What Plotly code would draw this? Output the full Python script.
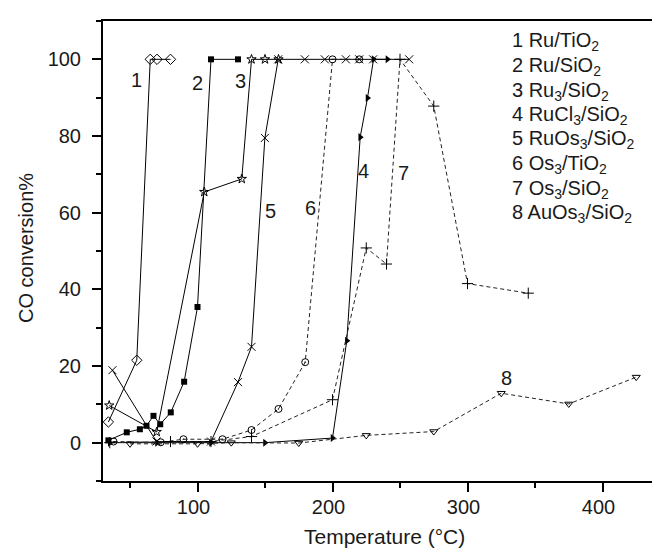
import plotly.graph_objects as go

# ---------------- data ----------------
s1_x = [34, 55, 65, 70, 80]
s1_y = [5.4, 21.5, 100, 100, 100]

s2_x = [34, 47.6, 57.3, 62.2, 67.4, 72.4, 80.2, 90.1, 100, 110, 130]
s2_y = [0.6, 2.7, 3.5, 4.4, 7.0, 4.8, 7.9, 15.9, 35.4, 100, 100]

s3_x = [34.6, 69.8, 105, 132.8, 140, 150, 160]
s3_y = [9.7, 2.8, 65.4, 68.8, 100, 100, 100]

s4_x = [35, 70, 110, 150, 200, 210.6, 220.5, 225.9, 230.4, 240.7]
s4_y = [0, 0, 0, 0, 1.2, 26.6, 79.7, 89.9, 100, 100]

s5_x = [37, 69.6, 110, 130, 140, 149.9, 159.8, 179.5, 194.3, 209.9, 219.8, 230.1, 256.8]
s5_y = [18.9, 0.3, 0.3, 15.8, 25.0, 79.5, 100, 100, 100, 100, 100, 100, 100]

s6_x = [37.8, 72.8, 89.6, 118.5, 140, 160, 179.8, 200, 219.8]
s6_y = [0.3, 0.1, 0.9, 0.9, 3.3, 8.8, 21.0, 100, 100]

s7_x = [35, 80, 110, 140, 200, 225, 240, 250, 275, 300, 345]
s7_y = [0, 0.3, 0.3, 1.6, 11.2, 50.8, 46.6, 100, 87.8, 41.5, 39.0]

s8_x = [50, 100, 125, 175, 225, 275, 325, 375, 425]
s8_y = [-0.3, -0.3, 0, -0.1, 1.9, 2.9, 12.9, 10.1, 17.1]

curve_labels = ["1", "2", "3", "4", "5", "6", "7", "8"]
curve_label_x = [55, 100, 132, 223, 154.3, 184, 252.6, 328.9]
curve_label_y = [94.7, 93.9, 94.4, 70.8, 60.5, 61.3, 70.4, 16.8]

legend_texts = [
    "1 Ru/TiO<sub>2</sub>",
    "2 Ru/SiO<sub>2</sub>",
    "3 Ru<sub>3</sub>/SiO<sub>2</sub>",
    "4 RuCl<sub>3</sub>/SiO<sub>2</sub>",
    "5 RuOs<sub>3</sub>/SiO<sub>2</sub>",
    "6 Os<sub>3</sub>/TiO<sub>2</sub>",
    "7 Os<sub>3</sub>/SiO<sub>2</sub>",
    "8 AuOs<sub>3</sub>/SiO<sub>2</sub>",
]

x_tick_vals = [100, 200, 300, 400]
y_tick_vals = [0, 20, 40, 60, 80, 100]

# ---------------- layout geometry ----------------
W, H = 660, 549
ML, MR, MT, MB = 95, 0, 13, 76
FONT = "Liberation Sans, Arial, sans-serif"
FS = 20
FS_LEG = 20
TXT = "#1a1a1a"


def px_to_paper_x(px):
    return (px - ML) / (W - ML - MR)


def px_to_paper_y(py):
    return (H - MB - py) / (H - MT - MB)


fig = go.Figure()

styles = [
    (s1_x, s1_y, dict(symbol="diamond-open", size=8, color="black", line=dict(width=1, color="black")), None),
    (s2_x, s2_y, dict(symbol="square", size=6, color="black"), None),
    (s3_x, s3_y, dict(symbol="star-open", size=7, color="black", line=dict(width=1, color="black")), None),
    (s4_x, s4_y, dict(symbol="triangle-right", size=7, color="black"), None),
    (s5_x, s5_y, dict(symbol="x-thin-open", size=8, color="black", line=dict(width=1, color="black")), None),
    (s6_x, s6_y, dict(symbol="circle-open-dot", size=7, color="black", line=dict(width=1, color="black")), "4px,3px"),
    (s7_x, s7_y, dict(symbol="cross-thin-open", size=8, color="black", line=dict(width=1, color="black")), "4px,3px"),
    (s8_x, s8_y, dict(symbol="triangle-down-open", size=7, color="black", line=dict(width=1, color="black")), "4px,3px"),
]

for xs, ys, mk, dash in styles:
    line = dict(color="#222" if dash else "black", width=1)
    if dash:
        line["dash"] = dash
    fig.add_trace(go.Scatter(x=xs, y=ys, mode="lines+markers", marker=mk, line=line,
                             showlegend=False, hoverinfo="skip"))

annotations = []
for t, x, y in zip(curve_labels, curve_label_x, curve_label_y):
    annotations.append(dict(x=x, y=y, xref="x", yref="y", text=t, showarrow=False,
                            font=dict(family=FONT, size=FS, color=TXT),
                            xanchor="center", yanchor="middle"))

for i, t in enumerate(legend_texts):
    annotations.append(dict(x=px_to_paper_x(502), y=px_to_paper_y(34 + 24.5 * i),
                            xref="paper", yref="paper", text=t, showarrow=False,
                            font=dict(family=FONT, size=FS_LEG, color=TXT),
                            xanchor="left", yanchor="middle"))

annotations.append(dict(x=px_to_paper_x(376), y=px_to_paper_y(528), xref="paper", yref="paper",
                        text="Temperature (°C)", showarrow=False,
                        font=dict(family=FONT, size=21, color=TXT),
                        xanchor="center", yanchor="middle"))
annotations.append(dict(x=px_to_paper_x(18), y=px_to_paper_y(240), xref="paper", yref="paper",
                        text="CO conversion%", showarrow=False, textangle=-90,
                        font=dict(family=FONT, size=FS, color=TXT),
                        xanchor="center", yanchor="middle"))

fig.update_layout(
    width=W, height=H,
    margin=dict(l=ML, r=MR, t=MT, b=MB, pad=0),
    paper_bgcolor="white", plot_bgcolor="white",
    font=dict(family=FONT, size=FS, color=TXT),
    annotations=annotations,
    xaxis=dict(range=[30, 30 + (W - ML - MR) / 1.35], tickvals=x_tick_vals,
               ticks="outside", ticklen=9, tickwidth=2, tickcolor="black",
               minor=dict(dtick=50, tick0=0, ticks="outside", ticklen=5, tickwidth=2, tickcolor="black"),
               showline=True, linewidth=2, linecolor="black", mirror=True,
               showgrid=False, zeroline=False, ticklabelstandoff=-2, ticklabelshift=-4,
               tickfont=dict(family=FONT, size=FS, color=TXT)),
    yaxis=dict(range=[-10, 110], tickvals=y_tick_vals,
               ticks="outside", ticklen=9, tickwidth=2, tickcolor="black",
               minor=dict(dtick=10, tick0=0, ticks="outside", ticklen=5, tickwidth=2, tickcolor="black"),
               showline=True, linewidth=2, linecolor="black", mirror=False,
               showgrid=False, zeroline=False, ticklabelstandoff=7,
               tickfont=dict(family=FONT, size=FS, color=TXT)),
)

fig.write_html("out.html")
